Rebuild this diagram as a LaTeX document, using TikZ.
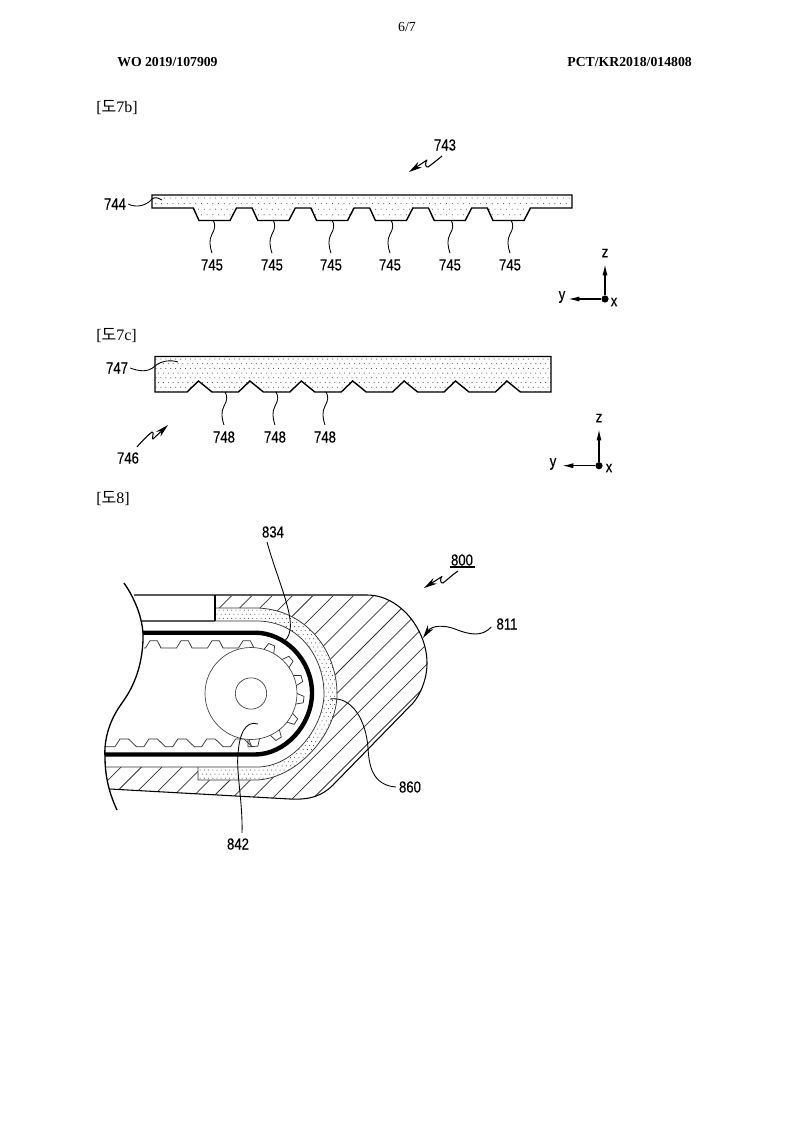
\documentclass[tikz,border=0pt]{standalone}
\usepackage{fontspec}
\usetikzlibrary{arrows.meta,calc}
\setmainfont{Liberation Serif}
\newfontfamily\labfont[FakeStretch=0.82,FakeBold=0.25]{Liberation Sans}
\newfontfamily\cjkfont{Noto Sans CJK KR}
\newcommand\dotgrid[6]{%
  \foreach \j in {0,...,#4}{%
    \pgfmathsetmacro\off{mod(\j,2)*#5/2}%
    \foreach \i in {0,...,#3}{%
      \fill[black!80] ({#1+\off+\i*#5},{#2+\j*#6}) circle (.5);
    }}}
\newcommand\pathB{(152,195) -- (152,208)
  \foreach \k in {0,...,5}{ -- ({193.3+58.8*\k},208) -- ({199+58.8*\k},220.5) -- ({230+58.8*\k},220.5) -- ({236.5+58.8*\k},208)}
  -- (572,208) -- (572,195) -- cycle}
\newcommand\pathC{(155,356.5) -- (155,392)
  \foreach \k in {0,...,6}{ -- ({187+51.4*\k},392) -- ({198.5+51.4*\k},381) -- ({212+51.4*\k},392)}
  -- (551,392) -- (551,356.5) -- cycle}
\newcommand\pathOuter{(215,608) -- (255,608) .. controls (305,608) and (337,650) .. (337,694) .. controls (337,735) and (295,780) .. (255,780) -- (198,780) -- (198,767) -- (215,767) -- cycle}
\newcommand\pathInner{(215,621) -- (257,621) .. controls (297,621) and (324,655) .. (324,694) .. controls (324,725) and (295,767) .. (257,767) -- (215,767) -- cycle}
\newcommand\pathHouse{(367,595) .. controls (400,595) and (427,630) .. (427,663) .. controls (427,680) and (420,695) .. (413,703) -- (333,785) .. controls (322,796) and (310,800) .. (290,799) -- (110,789)}
\newcommand\wiggle[1]{\draw[leader] ($(#1.north)+(0,-6)$) .. controls ($(#1.north)+(-2.5,-14)$) and ($(#1.north)+(-3,-19)$) .. ($(#1.north)+(0,-25)$) .. controls ($(#1.north)+(3.5,-31)$) and ($(#1.north)+(3.5,-35)$) .. ($(#1.north)+(1,-39)$);}
\tikzset{
  txt/.style={font=\fontsize{10.4}{12}\selectfont,inner sep=0,anchor=west},
  figtxt/.style={txt,font=\fontsize{12}{14}\selectfont},
  boldtxt/.style={txt,font=\fontsize{10.3}{12}\selectfont\bfseries},
  lab/.style={font=\labfont\fontsize{12}{14}\selectfont,inner sep=0},
  part/.style={line width=1.05pt,draw=black},
  thin line/.style={line width=.55pt,draw=black!80},
  leader/.style={line width=.65pt,draw=black},
  wedge/.style={line width=.8pt,line join=round,-{Stealth[length=10pt,width=5pt]}},
  axis/.style={line width=1pt,-{Latex[length=8.5pt,width=3.8pt]}},
  origin/.style={circle,fill=black,inner sep=0,minimum size=5.4pt}
}
\begin{document}
\begin{tikzpicture}[x=.75pt,y=-.75pt]
\useasboundingbox[fill=white] (0,0) rectangle (800,1132);

% page texts
\node[txt,anchor=center] (page) at (407,27) {6/7};
\node[boldtxt] (wo) at (117,62) {WO 2019/107909};
\node[boldtxt,anchor=east] (pct) at (692,62) {PCT/KR2018/014808};
\node[figtxt] (f7b) at (96,107.5) {[{\cjkfont 도}7b]};
\node[figtxt] (f7c) at (96,335.5) {[{\cjkfont 도}7c]};
\node[figtxt] (f8) at (96,498.5) {[{\cjkfont 도}8]};

% ---- Fig 7b
\begin{scope}
  \clip \pathB;
  \dotgrid{153}{198}{74}{4}{5.7}{5.6}
\end{scope}
\draw[part,line join=miter] \pathB;

\node[lab] (n743) at (445,145) {743};
\node[lab] (n744) at (115,204) {744};
\foreach \nm/\x in {a/212,b/272,c/331,d/390,e/450,f/510}{
  \node[lab] (n745\nm) at (\x,265) {745};
  \wiggle{n745\nm}
}
\coordinate (a743s) at (442,156);
\coordinate (a743t) at (409,172);
\draw[wedge] (a743s) .. controls (436,161) and (431,165) .. (428,167) .. controls (425,168) and (425,162) .. (427,160) -- (a743t);
\coordinate (e744) at (162,200);
\draw[leader] ($(n744.east)+(2,0)$) .. controls (136,208) and (146,206) .. (152,199) .. controls (155,196.5) and (158,198) .. (e744);

\coordinate (o1) at (605,299);
\node[origin] (d1) at (o1) {};
\coordinate (z1) at (605,264);
\coordinate (y1) at (568,299);
\draw[axis] (d1) -- (z1);
\draw[axis] (d1) -- (y1);
\node[lab] (z1l) at (605,253) {z};
\node[lab] (y1l) at (562,297) {y};
\node[lab] (x1l) at (614,302) {x};

% ---- Fig 7c
\begin{scope}
  \clip \pathC;
  \dotgrid{156}{359}{80}{7}{4.9}{4.7}
\end{scope}
\draw[part] \pathC;
\node[lab] (n746) at (128,458) {746};
\node[lab] (n747) at (117,368) {747};
\coordinate (a746s) at (137,447);
\coordinate (a746t) at (168,425);
\draw[wedge] (a746s) .. controls (142,441) and (148,435) .. (152,432) .. controls (155,431) and (151,441) .. (153,439) -- (a746t);
\coordinate (e747) at (178,362);
\draw[leader] ($(n747.east)+(2,0)$) .. controls (138,371) and (148,373) .. (155,366) .. controls (162,360) and (172,360) .. (e747);
\foreach \nm/\x in {a/224,b/275,c/325}{
  \node[lab] (n748\nm) at (\x,437) {748};
  \wiggle{n748\nm}
}
\coordinate (o2) at (599,465.7);
\node[origin] (d2) at (o2) {};
\coordinate (z2) at (599,429);
\coordinate (y2) at (562,465.7);
\draw[axis] (d2) -- (z2);
\draw[axis] (d2) -- (y2);
\node[lab] (z2l) at (599,418) {z};
\node[lab] (y2l) at (553,464) {y};
\node[lab] (x2l) at (609,468) {x};

% ---- Fig 8
\begin{scope}
  \clip (215,595) -- \pathHouse -- (105,767) -- (215,767) -- cycle;
  \foreach \k in {0,...,17}{
    \pgfmathsetmacro\c{807+20.3*\k}
    \draw[thin line] ({\c-580},580) -- ({\c-820},820);
  }
\end{scope}
\fill[white] \pathOuter;
\begin{scope}
  \clip \pathOuter;
  \dotgrid{196}{606}{38}{44}{4.2}{4.1}
\end{scope}
\fill[white] \pathInner;
\draw[thin line] (215,608) -- (255,608) .. controls (305,608) and (337,650) .. (337,694) .. controls (337,735) and (295,780) .. (255,780) -- (198,780) -- (198,767);
\draw[thin line] (215,621) -- (257,621) .. controls (297,621) and (324,655) .. (324,694) .. controls (324,725) and (295,767) .. (257,767) -- (105,767);
\draw[line width=.85pt,black!65] (134,595) -- (367,595);
\draw[line width=.85pt,black!65] (142,621) -- (215,621);
\draw[line width=.8pt] (215,595) -- (215,621);
\draw[line width=.8pt] \pathHouse;

% belt
\draw[line width=3.3pt] (143,632.7) -- (255,632.7) .. controls (285,632.7) and (312,660) .. (312,693) .. controls (312,725) and (285,754.5) .. (255,754.5) -- (105,754.5);
\draw[thin line,line join=miter] (144,648)
  \foreach \k in {0,...,3}{ -- ({145.5+31*\k},648) -- ({150+31*\k},640.7) -- ({157.3+31*\k},640.7) -- ({161+31*\k},648)} -- (252,648);
\draw[thin line,line join=miter] (106,746.7)
  \foreach \k in {0,...,4}{ -- ({115+28.9*\k},746.7) -- ({120+28.9*\k},739) -- ({128.5+28.9*\k},739) -- ({136.5+28.9*\k},746.7)} -- (248,746.7) -- (248,739);

% sprocket teeth and wheel
\foreach \a in {67,41,16.5,-6.6,-32,-58.6,-86}{
  \begin{scope}[shift={(251,693.5)},rotate=\a]
    \draw[thin line,line join=miter] (45,-5.5) -- (53,-3.2) -- (53,3.2) -- (45,5.5);
  \end{scope}
}
\node[circle,draw=black!75,fill=white,line width=.5pt,inner sep=0,minimum size=69pt] (wheel) at (251,693.5) {};
\node[circle,draw=black!75,fill=white,line width=.5pt,inner sep=0,minimum size=23.5pt] (hub) at (251,693.5) {};

% break line
\draw[line width=1pt] (124,583) .. controls (136,600) and (144,622) .. (143,640) .. controls (142,665) and (135,685) .. (122,703) .. controls (108,722) and (104,742) .. (105,757) .. controls (105,778) and (110,795) .. (117,810);

% labels and leaders
\node[lab] (n834) at (273,532) {834};
\node[lab] (n842) at (238,844) {842};
\node[lab] (n860) at (410,787) {860};
\node[lab] (n811) at (507,624) {811};
\node[lab] (n800) at (462,560) {800};
\coordinate (u1) at (450,567);
\coordinate (u2) at (474.5,567);
\draw[line width=.85pt] (u1) -- (u2);
\coordinate (a800s) at (458,571);
\coordinate (a800t) at (424,588);
\draw[wedge] (a800s) .. controls (452,575) and (447,580) .. (443,583) .. controls (440,584) and (440,578) .. (442,576.5) -- (a800t);
\coordinate (e834) at (283,642);
\draw[leader] ($(n834.south)+(-6,4)$) .. controls (277,578) and (293,612) .. (290,630) .. controls (289,637) and (286,640) .. (e834);
\coordinate (e842) at (258,724);
\draw[leader] ($(n842.north)+(4,-5)$) .. controls (243,805) and (236,770) .. (238,755) .. controls (239,735) and (245,720) .. (e842);
\coordinate (e860) at (330,699);
\draw[leader] ($(n860.west)+(-3,0)$) .. controls (372,785) and (369,765) .. (368,748) .. controls (366,720) and (352,696) .. (e860);
\coordinate (e811) at (423,638);
\draw[line width=.7pt,{Stealth[length=10pt,width=5pt]}-] (e811) .. controls (432,625) and (445,625) .. (455,629) .. controls (470,635) and (482,637) .. ($(n811.west)+(-5,3)$);
\end{tikzpicture}
\end{document}
